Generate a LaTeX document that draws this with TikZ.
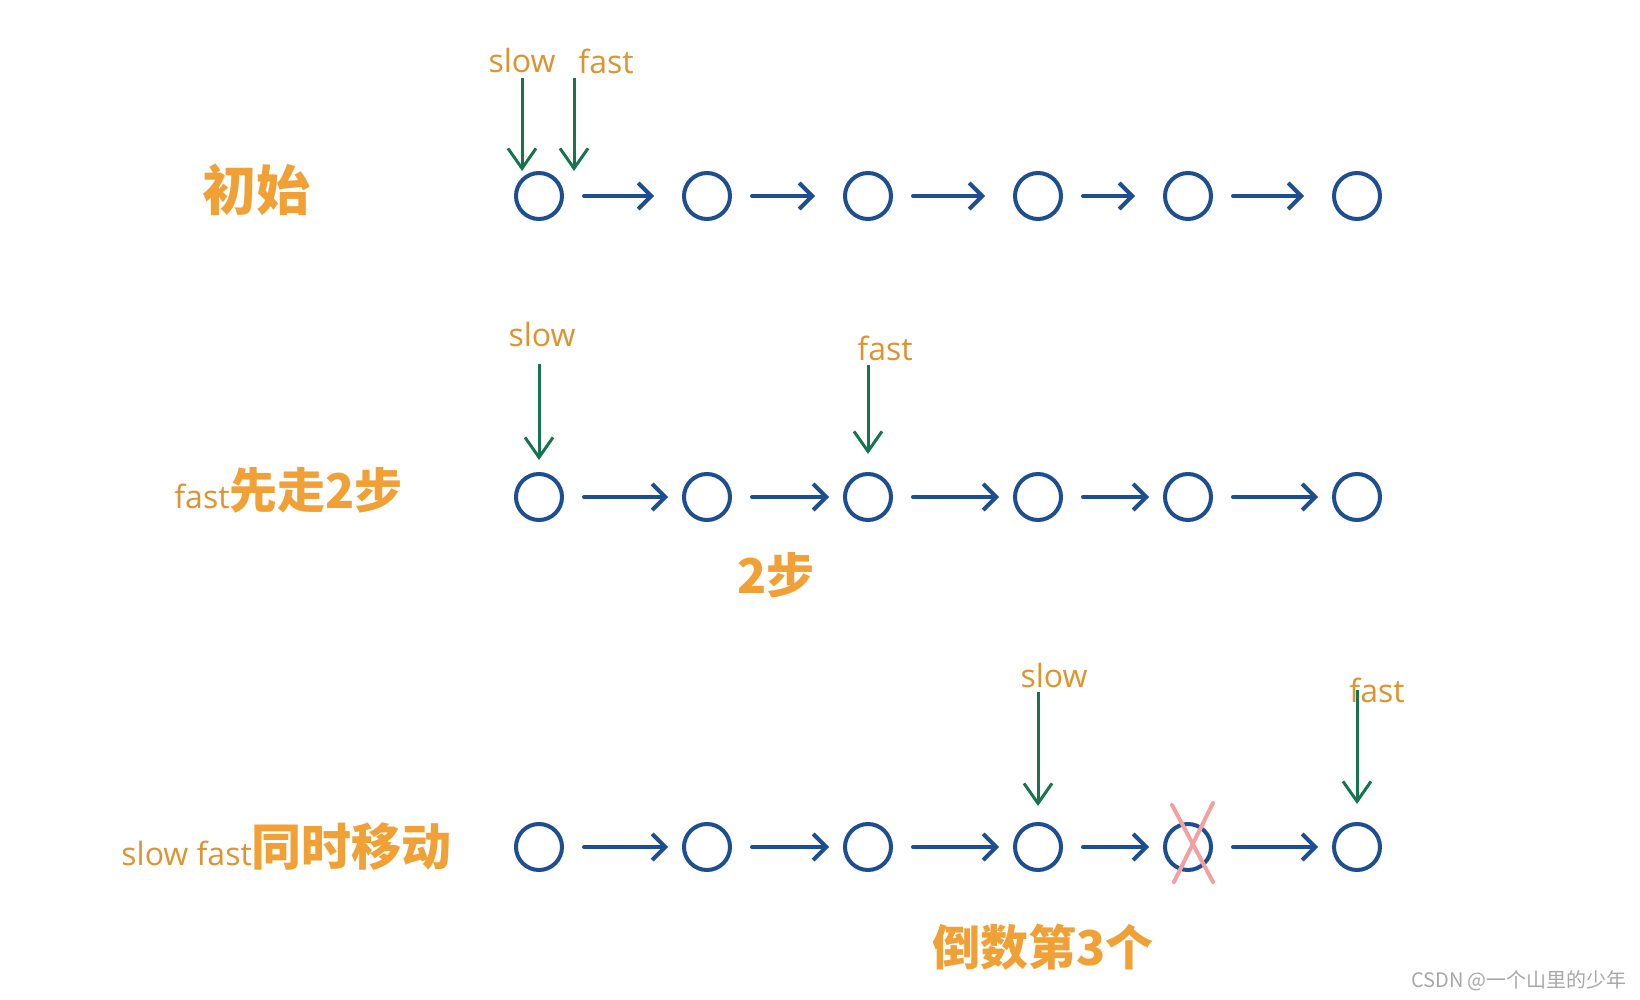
\documentclass[tikz,border=0pt]{standalone}
\usepackage{fontspec}
\setmainfont{Open Sans}
\newfontfamily\cjk{Noto Sans CJK SC}
\usetikzlibrary{arrows.meta,calc}
\definecolor{listblue}{HTML}{1C4E91}
\definecolor{ptrgreen}{HTML}{16754F}
\definecolor{lblorange}{HTML}{E0922E}
\definecolor{handorange}{HTML}{F0A035}
\definecolor{crosspink}{HTML}{F2A0A0}
\definecolor{markgrey}{HTML}{A8A8A8}
\tikzset{
  nd/.style={circle, draw=listblue, line width=2pt, minimum size=23pt,
             inner sep=0pt},
  link/.style={-{Straight Barb[length=6.5pt,width=13pt]}, line width=2pt,
               draw=listblue, line cap=round, shorten <=10pt, shorten >=#1},
  link/.default=7pt,
  ptr/.style={-{Straight Barb[length=10pt,width=14pt]}, line width=1.5pt,
              draw=ptrgreen, shorten >=#1},
  ptr/.default=0pt,
  lbl/.style={font=\fontsize{16}{18}\selectfont, text=lblorange, inner sep=2pt},
  hand/.style={font=\cjk\bfseries\fontsize{#1}{#1}\selectfont,
               text=handorange, inner sep=0pt},
  cross/.style={line width=2pt, draw=crosspink, line cap=round},
}

\begin{document}
\begin{tikzpicture}[x=0.5pt, y=-0.5pt]
\useasboundingbox (0,0) rectangle (1640,1000);

% ------------------------- lists ----------------------------------------
\foreach \y [count=\r] in {196,497,847}{
  \foreach \x [count=\i] in {539,707,868,1038,1188,1357}{
    \node[nd] (c\r\i) at (\x,\y) {};
  }
}
\foreach \i [evaluate=\i as \j using int(\i+1)] in {1,...,5}{
  \draw[link=14pt] (c1\i) -- (c1\j);
  \draw[link] (c2\i) -- (c2\j);
  \draw[link] (c3\i) -- (c3\j);
}

% ------------------------- row 1: start ---------------------------------
\node[hand=27] at (256,190) (t1) {初始};
\node[lbl] at (522,61) (s1) {slow};
\node[lbl] at (606,61) (f1) {fast};
\draw[ptr] (s1.south) -- (s1.south |- c11.north);
\draw[ptr] (f1.south west) -- (f1.south west |- c11.north);

% ------------------------- row 2: fast goes first -----------------------
\node[lbl, anchor=west, inner sep=0pt] at (174,490) (t2)
   {fast{\cjk\bfseries\color{handorange}\fontsize{24}{24}\selectfont 先走2步}};
\node[lbl] at (542,335) (s2) {slow};
\node[lbl] at (885,348) (f2) {fast};
\draw[ptr=6pt, shorten <=6pt] (c21.north |- s2.south) -- (c21.north);
\draw[ptr=9pt] (c23.north |- f2.south) -- (c23.north);
\node[hand=24] at (776,575) (k2) {2步};

% ------------------------- row 3: both move -----------------------------
\node[lbl, anchor=west, inner sep=0pt] at (121,847) (t3)
   {slow fast{\cjk\bfseries\color{handorange}\fontsize{25}{25}\selectfont 同时移动}};
\node[lbl] at (1054,675) (s3) {slow};
\node[lbl] at (1377,690) (f3) {fast};
\draw[ptr=8pt] (c34.north |- s3.south) -- (c34.north);
\draw[ptr=9pt] (c36.north |- f3.center) -- (c36.north);
\draw[cross] ($(c35)+(-16,-42)$) -- ($(c35)+(25,35)$);
\draw[cross] ($(c35)+(25,-44)$) -- ($(c35)+(-14,35)$);
\node[hand=24] at (1043,947) (k3) {倒数第3个};

\node[font=\cjk\fontsize{10}{12}\selectfont, text=markgrey] at (1519,981)
   (wm) {CSDN @一个山里的少年};
\end{tikzpicture}
\end{document}
